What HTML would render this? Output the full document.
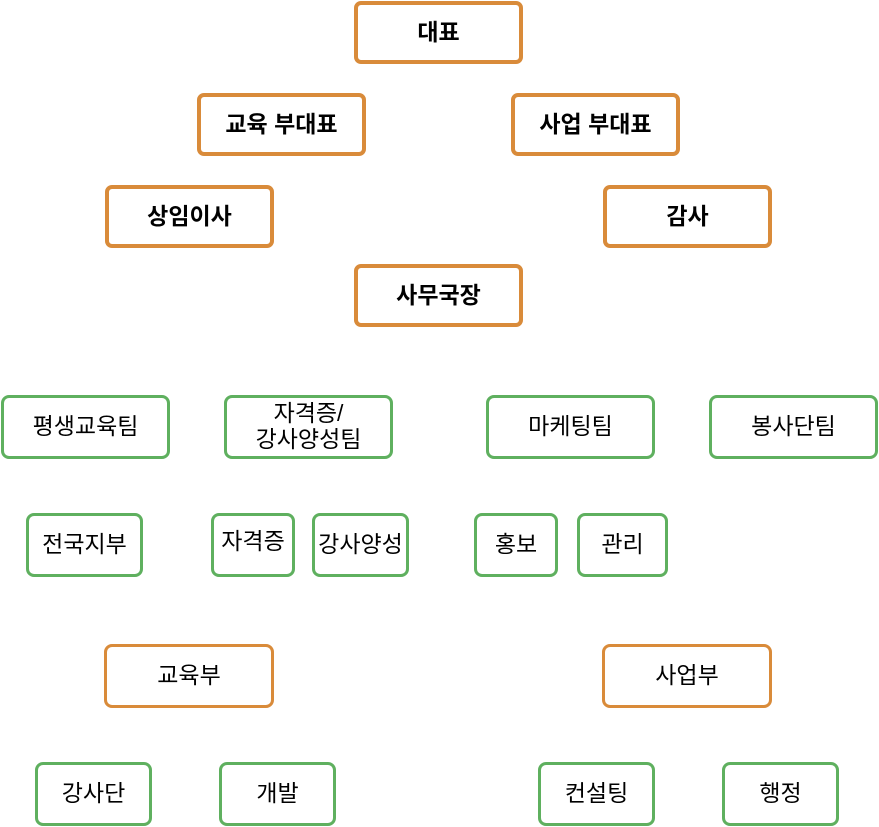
<!DOCTYPE html>
<html><head><meta charset="utf-8"><style>
html,body{margin:0;padding:0;background:#fff;}
body{width:879px;height:827px;position:relative;overflow:hidden;font-family:"Liberation Sans","Noto Sans CJK KR",sans-serif;}
.b{position:absolute;box-sizing:border-box;display:flex;align-items:center;justify-content:center;text-align:center;color:#000;background:#fff;line-height:1.12;}
.o{border:4px solid #d98b3a;border-radius:7px;font-weight:bold;font-size:23px;}
.o2{border:3px solid #d98b3a;border-radius:8px;font-size:23px;}
.g{border:3px solid #5fb05f;border-radius:8px;font-size:23px;font-weight:400;}
</style></head><body>
<div class="b o" style="left:354px;top:1px;width:169px;height:63px">대표</div>
<div class="b o" style="left:197px;top:93px;width:169px;height:63px">교육 부대표</div>
<div class="b o" style="left:511px;top:93px;width:169px;height:63px">사업 부대표</div>
<div class="b o" style="left:105px;top:185px;width:169px;height:63px">상임이사</div>
<div class="b o" style="left:603px;top:185px;width:169px;height:63px">감사</div>
<div class="b o" style="left:354px;top:264px;width:169px;height:63px">사무국장</div>

<div class="b g" style="left:1px;top:395px;width:169px;height:64px">평생교육팀</div>
<div class="b g" style="left:224px;top:395px;width:169px;height:64px">자격증/<br>강사양성팀</div>
<div class="b g" style="left:486px;top:395px;width:169px;height:64px">마케팅팀</div>
<div class="b g" style="left:709px;top:395px;width:169px;height:64px">봉사단팀</div>

<div class="b g" style="left:26px;top:513px;width:117px;height:64px">전국지부</div>
<div class="b g" style="left:211px;top:513px;width:84px;height:64px;padding-bottom:6px">자격증</div>
<div class="b g" style="left:312px;top:513px;width:97px;height:64px">강사양성</div>
<div class="b g" style="left:474px;top:513px;width:84px;height:64px">홍보</div>
<div class="b g" style="left:577px;top:513px;width:91px;height:64px">관리</div>

<div class="b o2" style="left:104px;top:644px;width:170px;height:64px">교육부</div>
<div class="b o2" style="left:602px;top:644px;width:170px;height:64px">사업부</div>

<div class="b g" style="left:35px;top:762px;width:117px;height:64px">강사단</div>
<div class="b g" style="left:219px;top:762px;width:117px;height:64px">개발</div>
<div class="b g" style="left:538px;top:762px;width:117px;height:64px">컨설팅</div>
<div class="b g" style="left:722px;top:762px;width:117px;height:64px">행정</div>
</body></html>
